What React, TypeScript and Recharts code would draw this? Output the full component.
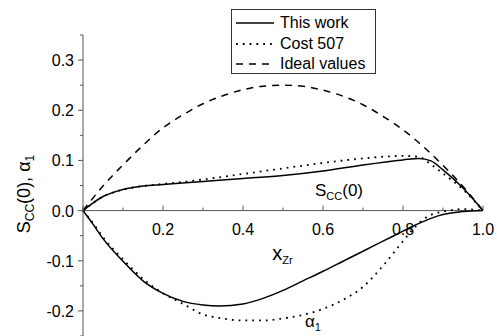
import { Legend, Line, LineChart, ReferenceDot, ReferenceLine, XAxis, YAxis } from "recharts";

const W = 497;
const H = 336;
const X_H = 30;
// negative bottom margin cancels the x axis height so the plot reaches the bottom edge
const MARGIN = { top: 35, right: 14, bottom: -X_H, left: 0 };
const Y_W = 83;
const Y_MIN = -0.25;
const Y_MAX = 0.35;
const AXIS = "#555";
const FONT = "Arial, 'Liberation Sans', sans-serif";

const X_TICKS = [0, 0.1, 0.2, 0.3, 0.4, 0.5, 0.6, 0.7, 0.8, 0.9, 1.0];
const X_LABELS = ["", "", "0.2", "", "0.4", "", "0.6", "", "0.8", "", "1.0"];
const Y_TICKS = [-0.25, -0.2, -0.15, -0.1, -0.05, 0, 0.05, 0.1, 0.15, 0.2, 0.25, 0.3, 0.35];
const Y_LABELS = ["", "-0.2", "", "-0.1", "", "0.0", "", "0.1", "", "0.2", "", "0.3", ""];

// ideal values
const IDEAL_X = [0, 0.05, 0.1, 0.15, 0.2, 0.25, 0.3, 0.35, 0.4, 0.45, 0.5, 0.55, 0.6, 0.65, 0.7, 0.75, 0.8, 0.85, 0.9, 0.95, 1.0];
const IDEAL = [0, 0.049, 0.091, 0.13, 0.165, 0.191, 0.213, 0.229, 0.241, 0.248, 0.25, 0.248, 0.24, 0.228, 0.211, 0.188, 0.161, 0.128, 0.09, 0.048, 0];

// S_cc(0)
const SCC_X = [0, 0.025, 0.05, 0.075, 0.1, 0.125, 0.15, 0.2, 0.3, 0.4, 0.5, 0.6, 0.7, 0.8, 0.84, 0.87, 0.9, 0.95, 1.0];
const SCC_WORK = [0, 0.015, 0.028, 0.036, 0.042, 0.046, 0.049, 0.052, 0.058, 0.064, 0.07, 0.079, 0.091, 0.101, 0.104, 0.099, 0.081, 0.045, 0];
const SCC_COST = [0, 0.015, 0.028, 0.036, 0.042, 0.046, 0.049, 0.053, 0.062, 0.073, 0.084, 0.095, 0.104, 0.109, 0.107, 0.092, 0.074, 0.042, 0];

// alpha_1
const A1_X = [0, 0.025, 0.05, 0.1, 0.15, 0.2, 0.25, 0.3, 0.34, 0.4, 0.45, 0.5, 0.55, 0.6, 0.65, 0.7, 0.75, 0.8, 0.825, 0.85, 0.875, 0.9, 0.95, 1.0];
const A1_WORK = [0, -0.027, -0.056, -0.101, -0.14, -0.165, -0.181, -0.188, -0.19, -0.186, -0.175, -0.159, -0.14, -0.121, -0.101, -0.081, -0.061, -0.041, -0.031, -0.022, -0.014, -0.008, -0.002, 0];
const A1_COST = [0, -0.025, -0.053, -0.097, -0.136, -0.165, -0.186, -0.207, -0.214, -0.219, -0.219, -0.215, -0.208, -0.196, -0.178, -0.152, -0.11, -0.061, -0.037, -0.018, -0.007, -0.002, 0.003, 0];

const toRows = (xs: number[], ys: number[]) => xs.map((x, i) => ({ x, y: ys[i] }));

const SOLID = { stroke: "#000", strokeWidth: 1.5 };
const DOTTED = { stroke: "#000", strokeWidth: 1.8, strokeDasharray: "1.8 5" };
const DASHED = { stroke: "#000", strokeWidth: 1.5, strokeDasharray: "7 6" };

const LEGEND = [
  { label: "This work", style: SOLID },
  { label: "Cost 507", style: DOTTED },
  { label: "Ideal values", style: DASHED },
];

const PLOT_H = H - MARGIN.top - MARGIN.bottom - X_H;
const ZERO_Y = MARGIN.top + (PLOT_H * Y_MAX) / (Y_MAX - Y_MIN);
const AXIS_X = MARGIN.left + Y_W;

function XTick({ x, index }: any) {
  const major = index % 2 === 0;
  return (
    <g>
      <line x1={x} x2={x} y1={ZERO_Y} y2={ZERO_Y - (major ? 5 : 3)} stroke={AXIS} />
      {X_LABELS[index] && (
        <text x={x} y={ZERO_Y + 24} textAnchor="middle" fontSize={16} fontFamily={FONT} fill="#000">
          {X_LABELS[index]}
        </text>
      )}
    </g>
  );
}

function YTick({ y, index }: any) {
  const label = Y_LABELS[index];
  return (
    <g>
      <line x1={AXIS_X} x2={AXIS_X - (label ? 5 : 3)} y1={y} y2={y} stroke={AXIS} />
      {label && (
        <text x={AXIS_X - 9} y={y + 6} textAnchor="end" fontSize={16} fontFamily={FONT} fill="#000">
          {label}
        </text>
      )}
    </g>
  );
}

function YLabel() {
  return (
    <text transform="translate(30,194) rotate(-90)" textAnchor="middle" fontSize={18} fontFamily={FONT} fill="#000">
      S<tspan fontSize={12} dy={4}>CC</tspan>
      <tspan dy={-4}>(0), α</tspan>
      <tspan fontSize={12} dy={4}>1</tspan>
    </text>
  );
}

function Note({ main, sub, tail, size = 17 }: { main: string; sub: string; tail?: string; size?: number }) {
  return ({ viewBox }: any) => (
    <text x={viewBox.x} y={viewBox.y} fontSize={size} fontFamily={FONT} fill="#000">
      {main}
      <tspan fontSize={11} dy={4}>{sub}</tspan>
      {tail && <tspan dy={-4}>{tail}</tspan>}
    </text>
  );
}

function LegendBox() {
  return (
    <div style={{ border: "1px solid #333", width: 145, height: 65, background: "#fff", fontFamily: FONT, fontSize: 16, boxSizing: "border-box", padding: "3px 0 0 3px" }}>
      {LEGEND.map((l) => (
        <div key={l.label} style={{ display: "flex", alignItems: "center", height: 20.5 }}>
          <svg width={40} height={10} style={{ marginRight: 5 }}>
            <line x1={1} x2={39} y1={5} y2={5} {...l.style} />
          </svg>
          <span>{l.label}</span>
        </div>
      ))}
    </div>
  );
}

export default function App() {
  return (
    <div style={{ position: "absolute", left: 0, top: 0, width: W, height: H, background: "#fff" }}>
      <LineChart width={W} height={H} margin={MARGIN}>
        <XAxis
          type="number"
          dataKey="x"
          domain={[0, 1]}
          ticks={X_TICKS}
          interval={0}
          height={X_H}
          axisLine={false}
          tickLine={false}
          tick={<XTick />}
        />
        <YAxis
          type="number"
          domain={[Y_MIN, Y_MAX]}
          ticks={Y_TICKS}
          interval={0}
          width={Y_W}
          allowDataOverflow
          axisLine={{ stroke: AXIS }}
          tickLine={false}
          tick={<YTick />}
          label={{ content: <YLabel /> }}
        />
        <ReferenceLine y={0} stroke={AXIS} />
        <Line data={toRows(IDEAL_X, IDEAL)} dataKey="y" type="monotone" dot={false} {...DASHED} isAnimationActive={false} />
        <Line data={toRows(SCC_X, SCC_COST)} dataKey="y" type="monotone" dot={false} {...DOTTED} isAnimationActive={false} />
        <Line data={toRows(A1_X, A1_COST)} dataKey="y" type="monotone" dot={false} {...DOTTED} isAnimationActive={false} />
        <Line data={toRows(SCC_X, SCC_WORK)} dataKey="y" type="monotone" dot={false} {...SOLID} isAnimationActive={false} />
        <Line data={toRows(A1_X, A1_WORK)} dataKey="y" type="monotone" dot={false} {...SOLID} isAnimationActive={false} />
        <ReferenceDot x={0.58} y={0.03} r={0} label={{ content: Note({ main: "S", sub: "CC", tail: "(0)" }) }} />
        <ReferenceDot x={0.555} y={-0.232} r={0} label={{ content: Note({ main: "α", sub: "1" }) }} />
        <ReferenceDot x={0.473} y={-0.098} r={0} label={{ content: Note({ main: "x", sub: "Zr", size: 20 }) }} />
        <Legend
          layout="vertical"
          verticalAlign="middle"
          align="center"
          content={<LegendBox />}
          wrapperStyle={{ left: 231, top: 9, width: 145 }}
        />
      </LineChart>
    </div>
  );
}
